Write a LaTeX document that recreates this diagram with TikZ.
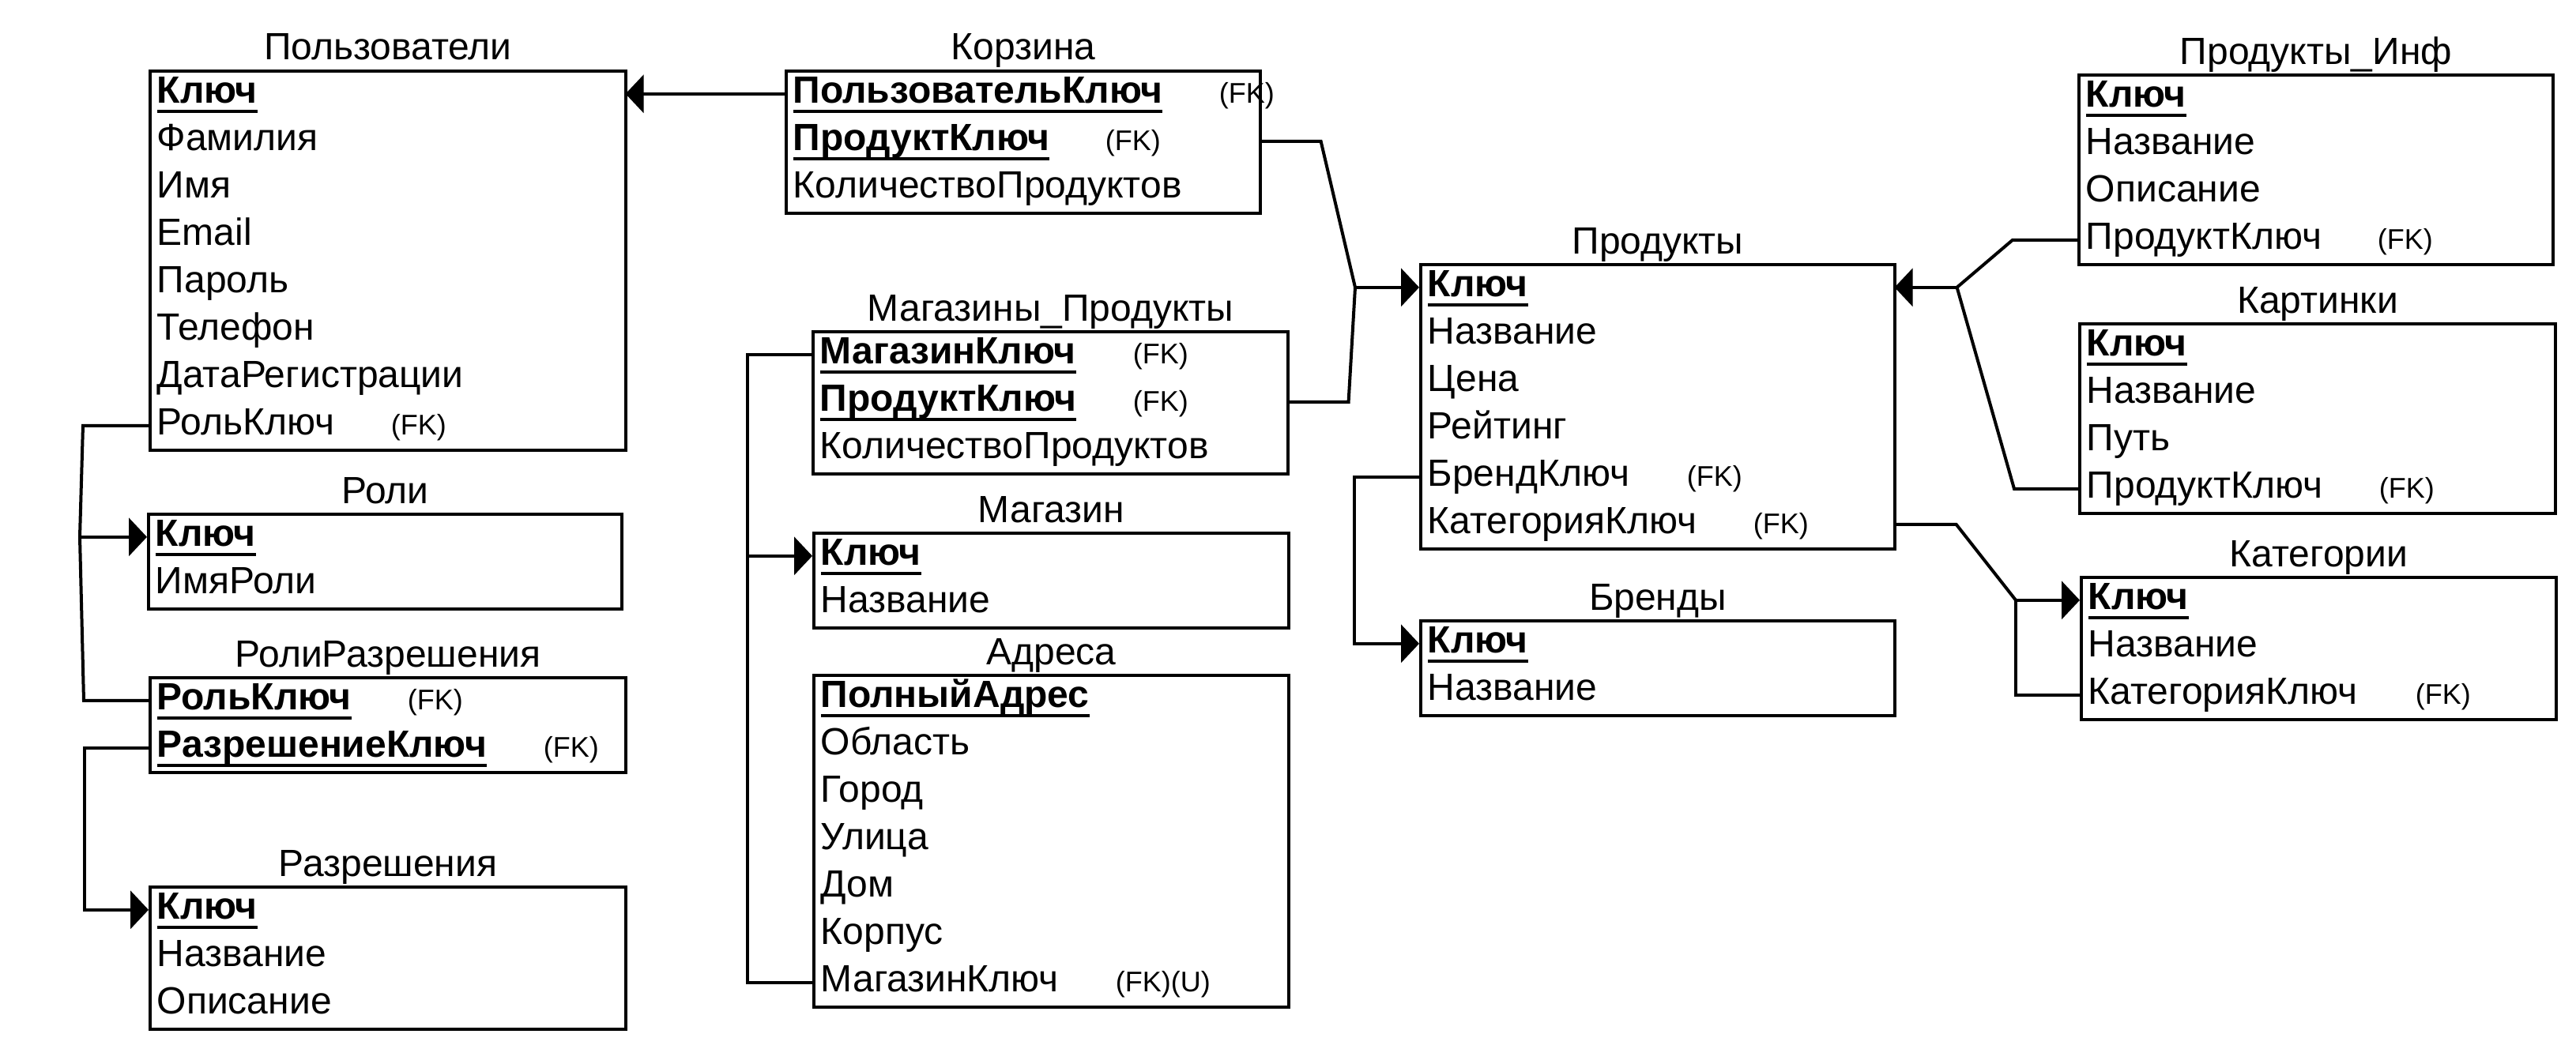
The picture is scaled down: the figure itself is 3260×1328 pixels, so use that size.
\documentclass[tikz,border=0pt]{standalone}
\usepackage{fontspec}
\setmainfont{Liberation Sans}
\usetikzlibrary{arrows.meta,calc}
\newcommand\rowfont{\fontsize{12pt}{14pt}\selectfont}
\newcommand\fksize{\fontsize{9pt}{10pt}\selectfont}
\newcommand\keytxt[1]{\setbox0=\hbox{\bfseries #1}\rlap{\rule[-3.1pt]{\wd0}{1pt}}\box0}
\newcommand\fkat[3]{\makebox[#1][l]{#2}\rlap{\fksize #3}}
\tikzset{
  tbox/.style={draw, line width=1pt, inner sep=0pt},
  ttitle/.style={anchor=base, inner sep=0pt, font=\rowfont},
  trow/.style={inner xsep=2.5pt, inner ysep=0pt, text height=10.5pt, text depth=4.5pt, align=left, font=\rowfont},
  conn/.style={line width=1pt},
  arr/.style={conn, -{Triangle[length=5.75pt,width=12pt]}}
}
\newcommand\mktable[6]{%
  \pgfmathsetlengthmacro\tw{#3*0.25pt}%
  \pgfmathsetlengthmacro\th{#4*15pt}%
  \pgfmathsetlengthmacro\txw{#3*0.25pt-5pt}%
  \node[tbox, minimum width=\tw, minimum height=\th, anchor=north west] (#1) at #2 {};
  \node[ttitle] (#1T) at ([yshift=3pt]#1.north) {#5};
  \foreach \rowc [count=\i] in {#6} {
    \node[trow, text width=\txw, anchor=north west] (#1\i) at ([yshift=-(\i-1)*15pt]#1.north west) {\rowc};
  }
}
\begin{document}
\begin{tikzpicture}[x=0.25pt,y=-0.25pt]
\useasboundingbox (0,0) rectangle (3260,1328);
\mktable{users}{(188,88)}{602}{8}{Пользователи}{\keytxt{Ключ},Фамилия,Имя,Email,Пароль,Телефон,ДатаРегистрации,\fkat{74pt}{РольКлюч}{(FK)}}
\mktable{roles}{(186,649)}{599}{2}{Роли}{\keytxt{Ключ},ИмяРоли}
\mktable{rp}{(188,856)}{602}{2}{РолиРазрешения}{\fkat{79.25pt}{\keytxt{РольКлюч}}{(FK)},\fkat{122.25pt}{\keytxt{РазрешениеКлюч}}{(FK)}}
\mktable{perm}{(188,1121)}{602}{3}{Разрешения}{\keytxt{Ключ},Название,Описание}
\mktable{cart}{(993,88)}{600}{3}{Корзина}{\fkat{134.75pt}{\keytxt{ПользовательКлюч}}{(FK)},\fkat{98.75pt}{\keytxt{ПродуктКлюч}}{(FK)},КоличествоПродуктов}
\mktable{sp}{(1027,418)}{601}{3}{Магазины\_Продукты}{\fkat{99pt}{\keytxt{МагазинКлюч}}{(FK)},\fkat{99pt}{\keytxt{ПродуктКлюч}}{(FK)},КоличествоПродуктов}
\mktable{shop}{(1028,673)}{601}{2}{Магазин}{\keytxt{Ключ},Название}
\mktable{addr}{(1028,853)}{601}{7}{Адреса}{\keytxt{ПолныйАдрес},Область,Город,Улица,Дом,Корпус,\fkat{93.25pt}{МагазинКлюч}{(FK)(U)}}
\mktable{prod}{(1796,333)}{600}{6}{Продукты}{\keytxt{Ключ},Название,Цена,Рейтинг,\fkat{82pt}{БрендКлюч}{(FK)},\fkat{103pt}{КатегорияКлюч}{(FK)}}
\mktable{brand}{(1796,784)}{600}{2}{Бренды}{\keytxt{Ключ},Название}
\mktable{pi}{(2629,93)}{600}{4}{Продукты\_Инф}{\keytxt{Ключ},Название,Описание,\fkat{92.25pt}{ПродуктКлюч}{(FK)}}
\mktable{img}{(2630,408)}{602}{4}{Картинки}{\keytxt{Ключ},Название,Путь,\fkat{92.5pt}{ПродуктКлюч}{(FK)}}
\mktable{cat}{(2632,729)}{601}{3}{Категории}{\keytxt{Ключ},Название,\fkat{103.5pt}{КатегорияКлюч}{(FK)}}
% connectors
\draw[arr] (cart1.west) -- (users1.east);
\draw[conn] (users8.west) -- ++(-83,0) coordinate (jR) -- ($(jR |- roles1.west)+(-4,0)$) coordinate (jR2) -- ($(jR |- rp1.west)+(1,0)$) -- (rp1.west);
\draw[arr] (jR2) -- (roles1.west);
\draw[arr] (rp2.west) -- ++(-81,0) |- (perm1.west);
\draw[conn] (sp1.west) -- ++(-81,0) coordinate (jS) |- (addr7.west);
\draw[arr] (jS |- shop1.west) -- (shop1.west);
\coordinate (jP) at ($(prod1.west)+(-81,0)$);
\draw[conn] (cart2.east) -- ++(77,0) -- (jP);
\draw[conn] (sp2.east) -- ++(77,0) -- (jP);
\draw[arr] (jP) -- (prod1.west);
\coordinate (jI) at ($(prod1.east)+(79,0)$);
\draw[conn] (pi4.west) -- ++(-82,0) -- (jI);
\draw[conn] (img4.west) -- ++(-81,0) -- (jI);
\draw[arr] (jI) -- (prod1.east);
\draw[arr] (prod5.west) -- ++(-82,0) |- (brand1.west);
\draw[conn] (prod6.east) -- ++(78,0) -- ($(cat1.west)+(-81,0)$) coordinate (jC);
\draw[arr] (jC) -- (cat1.west);
\draw[conn] (cat3.west) -- (jC |- cat3.west) -- (jC);
\end{tikzpicture}
\end{document}
